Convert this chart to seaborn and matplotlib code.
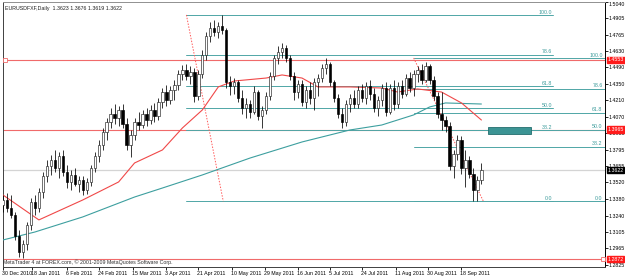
import matplotlib
matplotlib.use("Agg")
import matplotlib.pyplot as plt
import matplotlib.transforms as mtransforms
import seaborn as sns
import numpy as np
import pandas as pd

sns.set_theme(style="white")
plt.rcParams["font.family"] = ["Liberation Sans", "DejaVu Sans"]

# ---------------- data ----------------
opens = [1.3329, 1.3371, 1.3304, 1.3245, 1.3068, 1.2933, 1.3000, 1.3160, 1.3354, 1.3304,
         1.3438, 1.3573, 1.3658, 1.3708, 1.3641, 1.3742, 1.3607, 1.3523, 1.3582, 1.3506,
         1.3540, 1.3455, 1.3523, 1.3641, 1.3742, 1.3835, 1.3944, 1.4029, 1.4096, 1.4062,
         1.4130, 1.4012, 1.3835, 1.3919, 1.4029, 1.4003, 1.4096, 1.4045, 1.4130, 1.4079,
         1.4197, 1.4281, 1.4214, 1.4298, 1.4340, 1.4433, 1.4467, 1.4416, 1.4450, 1.4248,
         1.4433, 1.4593, 1.4754, 1.4821, 1.4787, 1.4838, 1.4804, 1.4366, 1.4332, 1.4366,
         1.4231, 1.4147, 1.4180, 1.4113, 1.4281, 1.4079, 1.4130, 1.4248, 1.4416, 1.4568,
         1.4619, 1.4652, 1.4568, 1.4416, 1.4281, 1.4349, 1.4197, 1.4298, 1.4231, 1.4366,
         1.4399, 1.4484, 1.4517, 1.4366, 1.4231, 1.4096, 1.4029, 1.4180, 1.4231, 1.4180,
         1.4298, 1.4231, 1.4332, 1.4265, 1.4147, 1.4214, 1.4315, 1.4113, 1.4315, 1.4180,
         1.4332, 1.4265, 1.4399, 1.4315, 1.4433, 1.4467, 1.4383, 1.4501, 1.4383, 1.4248,
         1.4096, 1.4045, 1.3995, 1.3658, 1.3759, 1.3877, 1.3641, 1.3708, 1.3590, 1.3455,
         1.3540]
highs = [1.3413, 1.3430, 1.3413, 1.3270, 1.3118, 1.3034, 1.3186, 1.3388, 1.3413, 1.3472,
         1.3607, 1.3708, 1.3750, 1.3793, 1.3776, 1.3793, 1.3666, 1.3624, 1.3641, 1.3573,
         1.3573, 1.3556, 1.3666, 1.3776, 1.3877, 1.3978, 1.4062, 1.4147, 1.4180, 1.4163,
         1.4180, 1.4062, 1.3961, 1.4062, 1.4113, 1.4130, 1.4147, 1.4172, 1.4189, 1.4231,
         1.4315, 1.4340, 1.4332, 1.4383, 1.4467, 1.4509, 1.4517, 1.4501, 1.4484, 1.4467,
         1.4636, 1.4787, 1.4872, 1.4888, 1.4872, 1.4931, 1.4821, 1.4416, 1.4399, 1.4383,
         1.4298, 1.4231, 1.4214, 1.4332, 1.4298, 1.4163, 1.4281, 1.4450, 1.4593, 1.4669,
         1.4695, 1.4678, 1.4593, 1.4450, 1.4383, 1.4383, 1.4332, 1.4366, 1.4399, 1.4433,
         1.4517, 1.4568, 1.4534, 1.4383, 1.4265, 1.4147, 1.4214, 1.4265, 1.4298, 1.4332,
         1.4349, 1.4366, 1.4383, 1.4315, 1.4248, 1.4349, 1.4366, 1.4349, 1.4383, 1.4366,
         1.4383, 1.4433, 1.4450, 1.4467, 1.4501, 1.4517, 1.4534, 1.4517, 1.4416, 1.4281,
         1.4281, 1.4079, 1.4029, 1.3793, 1.3919, 1.3911, 1.3793, 1.3742, 1.3641, 1.3573,
         1.3683]
lows = [1.3270, 1.3270, 1.3219, 1.3034, 1.2890, 1.2880, 1.2950, 1.3118, 1.3245, 1.3270,
        1.3388, 1.3523, 1.3582, 1.3607, 1.3556, 1.3573, 1.3472, 1.3455, 1.3489, 1.3438,
        1.3413, 1.3422, 1.3489, 1.3607, 1.3691, 1.3793, 1.3877, 1.3978, 1.4012, 1.3995,
        1.3978, 1.3793, 1.3733, 1.3877, 1.3961, 1.3978, 1.3995, 1.4012, 1.4029, 1.4045,
        1.4147, 1.4163, 1.4180, 1.4214, 1.4298, 1.4383, 1.4383, 1.4349, 1.4197, 1.4214,
        1.4399, 1.4551, 1.4703, 1.4754, 1.4737, 1.4770, 1.4315, 1.4256, 1.4265, 1.4197,
        1.4096, 1.4062, 1.4062, 1.4096, 1.4045, 1.3978, 1.4096, 1.4214, 1.4383, 1.4517,
        1.4568, 1.4534, 1.4383, 1.4214, 1.4231, 1.4163, 1.4147, 1.4180, 1.4130, 1.4248,
        1.4366, 1.4433, 1.4332, 1.4197, 1.4062, 1.3978, 1.3995, 1.4113, 1.4147, 1.4147,
        1.4197, 1.4180, 1.4214, 1.4113, 1.4079, 1.4163, 1.4079, 1.4096, 1.4130, 1.4147,
        1.4231, 1.4248, 1.4281, 1.4248, 1.4366, 1.4349, 1.4366, 1.4349, 1.4214, 1.4062,
        1.3961, 1.3944, 1.3624, 1.3556, 1.3708, 1.3590, 1.3481, 1.3556, 1.3360, 1.3360,
        1.3506]
closes = [1.3371, 1.3304, 1.3245, 1.3068, 1.2933, 1.3000, 1.3160, 1.3354, 1.3304, 1.3438,
          1.3573, 1.3658, 1.3708, 1.3641, 1.3742, 1.3607, 1.3523, 1.3582, 1.3506, 1.3540,
          1.3455, 1.3523, 1.3641, 1.3742, 1.3835, 1.3944, 1.4029, 1.4096, 1.4062, 1.4130,
          1.4012, 1.3835, 1.3919, 1.4029, 1.4003, 1.4096, 1.4045, 1.4130, 1.4079, 1.4197,
          1.4281, 1.4214, 1.4298, 1.4340, 1.4433, 1.4467, 1.4416, 1.4450, 1.4248, 1.4433,
          1.4593, 1.4754, 1.4821, 1.4787, 1.4838, 1.4804, 1.4366, 1.4332, 1.4366, 1.4231,
          1.4147, 1.4180, 1.4113, 1.4281, 1.4079, 1.4130, 1.4248, 1.4416, 1.4568, 1.4619,
          1.4652, 1.4568, 1.4416, 1.4281, 1.4349, 1.4197, 1.4298, 1.4231, 1.4366, 1.4399,
          1.4484, 1.4517, 1.4366, 1.4231, 1.4096, 1.4029, 1.4180, 1.4231, 1.4180, 1.4298,
          1.4231, 1.4332, 1.4265, 1.4147, 1.4214, 1.4315, 1.4113, 1.4315, 1.4180, 1.4332,
          1.4265, 1.4399, 1.4315, 1.4433, 1.4467, 1.4383, 1.4501, 1.4383, 1.4248, 1.4096,
          1.4045, 1.3995, 1.3658, 1.3759, 1.3877, 1.3641, 1.3708, 1.3590, 1.3455, 1.3540,
          1.3622]

date_labels = ["30 Dec 2010", "18 Jan 2011", "6 Feb 2011", "24 Feb 2011", "15 Mar 2011",
               "3 Apr 2011", "21 Apr 2011", "10 May 2011", "29 May 2011", "16 Jun 2011",
               "5 Jul 2011", "24 Jul 2011", "11 Aug 2011", "30 Aug 2011", "18 Sep 2011"]
date_bars = [0, 7.27, 16.05, 24.08, 32.6, 40.9, 48.9, 57.4, 65.7, 74.0, 82.0, 90.0, 98.6, 106.6, 114.9]

price_ticks = [1.5040, 1.4905, 1.4765, 1.4630, 1.4490, 1.4350, 1.4210, 1.4070, 1.3935,
               1.3795, 1.3655, 1.3520, 1.3380, 1.3240, 1.3105, 1.2965, 1.2825]

ma_fast_bars = [0, 9, 20, 29, 33, 40, 45, 50, 54, 58, 66, 70, 75, 79, 87, 95, 99, 104, 110, 115, 120]
ma_fast_vals = [1.3413, 1.3203, 1.3371, 1.3523, 1.3683, 1.3793, 1.3978, 1.4130, 1.4324, 1.4374,
                1.4399, 1.4425, 1.4399, 1.4324, 1.4324, 1.4315, 1.4281, 1.4307, 1.4281, 1.4189, 1.4045]
ma_slow_bars = [0, 8, 20, 33, 40, 50, 62, 75, 87, 95, 103, 107, 111, 120]
ma_slow_vals = [1.3034, 1.3101, 1.3228, 1.3396, 1.3472, 1.3582, 1.3725, 1.3860, 1.3961, 1.4003,
                1.4088, 1.4155, 1.4189, 1.4180]

red_levels = [1.4553, 1.3965, 1.2872]
last_price = 1.3622

fib_levels = [0.0, 38.2, 50.0, 61.8, 78.6, 100.0]
fib1_high, fib1_low = 1.4931, 1.3360
fib1_bar_a, fib1_bar_b, fib1_end = 46, 55.25, 138
fib2_high, fib2_low = 1.4568, 1.3360
fib2_bar_a, fib2_bar_b, fib2_end = 103, 120.5, 151

zone_bars = [121.75, 132.5]
zone_prices = [1.3927, 1.3986]

header = "EURUSDFXF,Daily  1.3623 1.3676 1.3619 1.3622"
copyright_text = "MetaTrader 4 at FOREX.com, \u00a9 2001-2009 MetaQuotes Software Corp."

# ---------------- drawing ----------------
RED = "#f06a6a"
TEAL = "#4fa6a6"
FS = 3.8

fig = plt.figure(figsize=(6.25, 2.76), dpi=100)
fig.patch.set_facecolor("white")
ax = fig.add_axes([3 / 625, 9 / 276, 602 / 625, 265 / 276])
ax.set_facecolor("white")
ax.set_xlim(0, 151)
ax.set_ylim(1.2806, 1.5040)

bars = np.arange(len(closes))
o = np.array(opens); h = np.array(highs); l = np.array(lows); c = np.array(closes)

# horizontal reference lines
ax.axhline(last_price, color="#d4d4d4", lw=0.9, zorder=1)
for p in red_levels:
    ax.axhline(p, color=RED, lw=0.8, zorder=2)

# fibonacci levels
for lv in fib_levels:
    p1 = fib1_low + lv / 100 * (fib1_high - fib1_low)
    ax.plot([fib1_bar_a, fib1_end], [p1, p1], color=TEAL, lw=0.7, zorder=2)
    ax.text(fib1_end - 0.3, p1 + 0.0003, f"{lv:.1f}", ha="right", va="bottom",
            fontsize=FS, color="#3a9a9a", zorder=6)
    p2 = fib2_low + lv / 100 * (fib2_high - fib2_low)
    ax.plot([fib2_bar_a, fib2_end], [p2, p2], color=TEAL, lw=0.7, zorder=2)
    ax.text(fib2_end - 0.6, p2 + 0.0003, f"{lv:.1f}", ha="right", va="bottom",
            fontsize=FS, color="#3a9a9a", zorder=6)

ax.plot([fib1_bar_a, fib1_bar_b], [fib1_high, fib1_low], color="#ff5a5a", lw=0.7,
        ls=(0, (1.5, 1.5)), zorder=3)
ax.plot([fib2_bar_a, fib2_bar_b], [fib2_high, fib2_low], color="#ff5a5a", lw=0.7,
        ls=(0, (1.5, 1.5)), zorder=3)

# zone rectangle
ax.add_patch(plt.Rectangle((zone_bars[0], zone_prices[0]), zone_bars[1] - zone_bars[0],
                           zone_prices[1] - zone_prices[0], facecolor="#3c9494",
                           edgecolor="#246e6e", lw=0.6, zorder=3))

# moving averages
sns.lineplot(x=ma_slow_bars, y=ma_slow_vals, ax=ax, color="#3d9f9f", lw=0.8, zorder=4)
sns.lineplot(x=ma_fast_bars, y=ma_fast_vals, ax=ax, color="#f04848", lw=0.8, zorder=4)

# candles
ax.vlines(bars, l, h, color="black", lw=0.55, zorder=5)
bull = c >= o
body_bottom = np.minimum(o, c)
body_h = np.maximum(np.abs(c - o), 0.0003)
ax.bar(bars[bull], body_h[bull], bottom=body_bottom[bull], width=0.58,
       color="white", edgecolor="#222222", linewidth=0.45, zorder=6)
ax.bar(bars[~bull], body_h[~bull], bottom=body_bottom[~bull], width=0.58,
       color="black", edgecolor="black", linewidth=0.45, zorder=6)

# small anchor squares on red lines
ax.plot([0.4], [red_levels[0]], marker="s", ms=2.2, mfc="white", mec=RED, mew=0.6, zorder=7, clip_on=False)
ax.plot([150.6], [red_levels[2]], marker="s", ms=2.2, mfc="white", mec=RED, mew=0.6, zorder=7, clip_on=False)

# axes styling
ax.yaxis.tick_right()
ax.set_yticks(price_ticks)
ax.set_yticklabels([f"{v:.4f}" for v in price_ticks])
ax.set_xticks(date_bars)
ax.set_xticklabels(date_labels, ha="left")
ax.tick_params(axis="y", which="both", right=True, left=False, length=1.8, width=0.6,
               pad=0.6, labelsize=FS, colors="black")
ax.tick_params(axis="x", which="both", bottom=True, length=2.2, width=0.6, pad=0.8,
               labelsize=FS, colors="black")
for t in ax.get_xticklabels():
    t.set_transform(t.get_transform() + mtransforms.ScaledTranslation(-0.8 / 100, 0, fig.dpi_scale_trans))
top_lbl = ax.get_yticklabels()[0]
top_lbl.set_transform(top_lbl.get_transform() + mtransforms.ScaledTranslation(0, -2.5 / 100, fig.dpi_scale_trans))
for side, col in (("left", "#404040"), ("right", "black"), ("top", "#909090"), ("bottom", "#404040")):
    ax.spines[side].set_visible(True)
    ax.spines[side].set_color(col)
    ax.spines[side].set_linewidth(0.7)
ax.grid(False)
ax.set_xlabel("")
ax.set_ylabel("")
if ax.get_legend():
    ax.get_legend().remove()

# price boxes on the right axis
for p in red_levels:
    ax.annotate(f"{p:.4f}", xy=(1, p), xycoords=("axes fraction", "data"), xytext=(1.9, 0),
                textcoords="offset points", ha="left", va="center", fontsize=FS, color="white",
                bbox=dict(boxstyle="square,pad=0.12", facecolor="#ff1a1a", edgecolor="#ff1a1a"),
                annotation_clip=False, zorder=10)
ax.annotate(f"{last_price:.4f}", xy=(1, last_price), xycoords=("axes fraction", "data"), xytext=(1.9, 0),
            textcoords="offset points", ha="left", va="center", fontsize=FS, color="white",
            bbox=dict(boxstyle="square,pad=0.12", facecolor="black", edgecolor="black"),
            annotation_clip=False, zorder=10)

ax.text(0.004, 0.984, header, transform=ax.transAxes, ha="left", va="top", fontsize=FS, color="#202020")
ax.text(0.0, 0.008, copyright_text, transform=ax.transAxes, ha="left", va="bottom",
        fontsize=FS, color="#303030")

fig.savefig("out.png", dpi=100, facecolor="white")
